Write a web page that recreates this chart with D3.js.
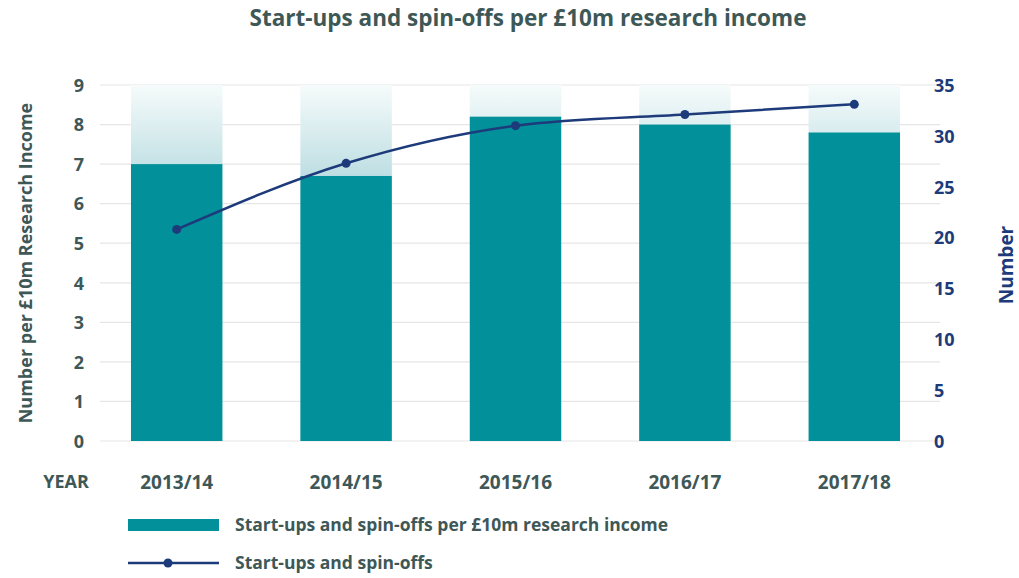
<!DOCTYPE html>
<html><head><meta charset="utf-8">
<script src="https://cdn.jsdelivr.net/npm/d3@7"></script>
<style>body{margin:0;background:#fff}svg{display:block}text{font-family:"Open Sans",Lato,sans-serif;font-weight:700}</style>
</head><body>
<svg id="c" width="1019" height="578"></svg>
<script>
const categories = ["2013/14","2014/15","2015/16","2016/17","2017/18"];
const perTenMillion = [7.0, 6.7, 8.2, 8.0, 7.8];
const startupCounts = [20.8, 27.3, 31, 32.1, 33.1];
const leftTicks = [0,1,2,3,4,5,6,7,8,9];
const rightTicks = [0,5,10,15,20,25,30,35];
const title = "Start-ups and spin-offs per £10m research income";
const barLabel = "Start-ups and spin-offs per £10m research income";
const lineLabel = "Start-ups and spin-offs";

const svg = d3.select("#c");
const teal = "#02909b", navy = "#1d3b7a", gray = "#3e5757";
const FF = "'Open Sans', Lato, sans-serif";
const x = d3.scaleBand().domain(categories).range([92, 939]).paddingInner(0.46).paddingOuter(0.23);
const yL = d3.scaleLinear().domain([0, 9]).range([441, 85]);
const yR = d3.scaleLinear().domain([0, 35]).range([441, 85]);

const defs = svg.append("defs");
const g = defs.append("linearGradient").attr("id","bg").attr("gradientUnits","userSpaceOnUse")
  .attr("x1",0).attr("x2",0).attr("y1",yL(9)).attr("y2",yL(6.5));
g.append("stop").attr("offset",0).attr("stop-color","#f6fbfb");
g.append("stop").attr("offset",1).attr("stop-color","#b9dce1");

svg.append("text").attr("x",528).attr("y",26).attr("text-anchor","middle")
  .attr("font-size",22.5).attr("fill",gray).text(title);

// gridlines
svg.append("g").selectAll("line").data(leftTicks).join("line")
  .attr("x1",100).attr("x2",940).attr("y1",d=>yL(d)).attr("y2",d=>yL(d))
  .attr("stroke","#e6e6e6").attr("stroke-width",1.2);

// background columns
svg.append("g").selectAll("rect").data(categories).join("rect")
  .attr("x",d=>x(d)).attr("width",x.bandwidth())
  .attr("y",yL(9)).attr("height",(d,i)=>yL(perTenMillion[i])-yL(9))
  .attr("fill","url(#bg)");

// bars
svg.append("g").selectAll("rect").data(categories).join("rect")
  .attr("x",d=>x(d)).attr("width",x.bandwidth())
  .attr("y",(d,i)=>yL(perTenMillion[i])).attr("height",(d,i)=>yL(0)-yL(perTenMillion[i]))
  .attr("fill",teal);

// line
const pts = categories.map((c,i)=>[x(c)+x.bandwidth()/2, yR(startupCounts[i])]);
svg.append("path").attr("d", d3.line().curve(d3.curveMonotoneX)(pts))
  .attr("fill","none").attr("stroke",navy).attr("stroke-width",2.5);
svg.append("g").selectAll("circle").data(pts).join("circle")
  .attr("cx",d=>d[0]).attr("cy",d=>d[1]).attr("r",4.5).attr("fill",navy);

// left axis
const la = svg.append("g").attr("transform","translate(84,0)")
  .call(d3.axisLeft(yL).tickValues(leftTicks).tickSize(0).tickPadding(0).tickFormat(d3.format("d")));
la.select(".domain").remove();
la.selectAll("text").attr("font-size",18).attr("fill",gray).attr("text-anchor","end").attr("dy","0.35em")
  .style("font-family",FF).style("font-weight",700);

// right axis
const ra = svg.append("g").attr("transform","translate(934,0)")
  .call(d3.axisRight(yR).tickValues(rightTicks).tickSize(0).tickPadding(0).tickFormat(d3.format("d")));
ra.select(".domain").remove();
ra.selectAll("text").attr("font-size",18).attr("fill",navy).attr("text-anchor","start").attr("dy","0.35em")
  .style("font-family",FF).style("font-weight",700);

// axis titles
svg.append("text").attr("transform","translate(32,263) rotate(-90)").attr("text-anchor","middle")
  .attr("font-size",18).attr("fill",gray).text("Number per £10m Research Income");
svg.append("text").attr("transform","translate(1013,265) rotate(-90)").attr("text-anchor","middle")
  .attr("font-size",19).attr("fill",navy).text("Number");

// x labels
const xa = svg.append("g").attr("transform","translate(0,482)")
  .call(d3.axisBottom(x).tickSize(0).tickPadding(0));
xa.select(".domain").remove();
xa.selectAll("text").attr("font-size",19).attr("fill",gray).attr("dy","0.35em")
  .style("font-family",FF).style("font-weight",700);
svg.append("text").attr("x",66).attr("y",482).attr("dy","0.35em").attr("text-anchor","middle")
  .attr("font-size",18).attr("fill",gray).text("YEAR");

// legend
svg.append("rect").attr("x",128).attr("y",519).attr("width",91).attr("height",12).attr("fill",teal);
svg.append("text").attr("x",235).attr("y",525).attr("dy","0.35em").attr("font-size",17.5).attr("fill",gray).text(barLabel);
svg.append("line").attr("x1",128).attr("x2",219).attr("y1",563).attr("y2",563).attr("stroke",navy).attr("stroke-width",2.5);
svg.append("circle").attr("cx",168).attr("cy",563).attr("r",4.5).attr("fill",navy);
svg.append("text").attr("x",235).attr("y",563).attr("dy","0.35em").attr("font-size",17.5).attr("fill",gray).text(lineLabel);
</script>
</body></html>
